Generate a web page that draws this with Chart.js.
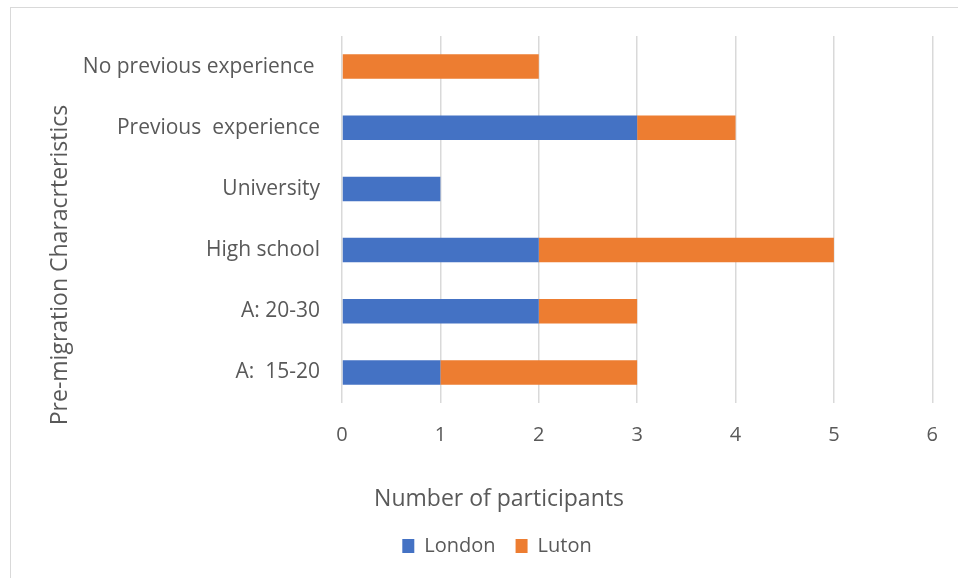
<!DOCTYPE html>
<html>
<head>
<meta charset="utf-8">
<script src="https://cdn.jsdelivr.net/npm/chart.js@4.4.0/dist/chart.umd.min.js"></script>
<style>
  body { margin: 0; background: #fff; }
  #wrap { position: relative; width: 958px; height: 578px; overflow: hidden; }
  #frame { position: absolute; left: 10px; top: 7px; width: 980px; height: 600px; border: 1px solid #d9d9d9; }
  #c_bar { position: absolute; left: 0; top: 0; }
</style>
</head>
<body>
<div id="wrap">
  <div id="frame"></div>
  <canvas id="c_bar" width="958" height="578"></canvas>
</div>
<script>
// data
const categories = ['No previous experience ', 'Previous  experience', 'University', 'High school', 'A: 20-30', 'A:  15-20']
const london = [0, 3, 1, 2, 2, 1]
const luton = [2, 1, 0, 3, 1, 2]
const xTicks = [0, 1, 2, 3, 4, 5, 6]
const xTitle = 'Number of participants'
const yTitle = 'Pre-migration Characrteristics'

const txtColor = '#595959'
const fontFam = "'Open Sans', 'Liberation Sans', sans-serif"

// axis titles drawn by hand, Excel centres them on the whole chart
const axisTitles = {
    id: 'axisTitles',
    afterDraw(chart) {
        const c = chart.ctx
        c.save()
        c.fillStyle = txtColor
        c.font = `23px ${fontFam}`
        c.textAlign = 'center'
        c.textBaseline = 'middle'
        c.fillText(xTitle, 499, 499)
        c.translate(60, 265)
        c.rotate(-Math.PI / 2)
        c.fillText(yTitle, 0, 0)
        c.restore()
    }
}

var ctx = document.getElementById('c_bar').getContext('2d')
new Chart(ctx, {
    type: 'bar',
    data: {
        labels: categories,
        datasets: [{
            label: 'London',
            data: london,
            backgroundColor: '#4472C4',
            categoryPercentage: 1,
            barPercentage: 0.4
        }, {
            label: 'Luton',
            data: luton,
            backgroundColor: '#ED7D31',
            categoryPercentage: 1,
            barPercentage: 0.4
        }]
    },
    options: {
        indexAxis: 'y',
        responsive: false,
        animation: false,
        layout: {
            padding: { left: 52, right: 16, top: 36, bottom: 12 }
        },
        plugins: {
            legend: {
                position: 'bottom',
                labels: {
                    color: txtColor,
                    font: { family: fontFam, size: 20 },
                    boxWidth: 12,
                    boxHeight: 14,
                    padding: 20
                }
            },
            tooltip: { enabled: false }
        },
        scales: {
            x: {
                stacked: true,
                min: 0,
                max: 6,
                afterBuildTicks(scale) {
                    scale.ticks = xTicks.map(v => ({ value: v }))
                },
                afterFit(scale) {
                    scale.height = 113
                },
                grid: { color: '#d9d9d9', lineWidth: 1.5, drawTicks: false },
                border: { display: false },
                ticks: {
                    color: txtColor,
                    font: { family: fontFam, size: 20 },
                    padding: 20
                }
            },
            y: {
                stacked: true,
                afterFit(scale) {
                    scale.width = 290
                },
                grid: { display: false, drawTicks: false },
                border: { display: false },
                ticks: {
                    color: txtColor,
                    font: { family: fontFam, size: 21 },
                    padding: 22
                }
            }
        }
    },
    plugins: [axisTitles]
})
</script>
</body>
</html>
